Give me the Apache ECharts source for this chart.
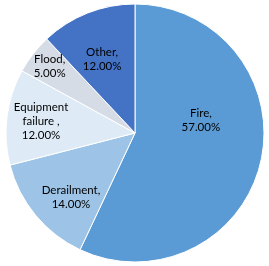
<!DOCTYPE html>
<html><head><meta charset="utf-8">
<script src="https://cdn.jsdelivr.net/npm/echarts@6/dist/echarts.min.js"></script>
<style>html,body{margin:0;padding:0;background:#fff}#c{width:269px;height:266px}</style>
</head><body><div id="c"></div>
<script>
var categories = ['Fire', 'Derailment', 'Equipment failure', 'Flood', 'Other'];
var labelNames = ['Fire,', 'Derailment,', 'Equipment\nfailure ,', 'Flood,', 'Other,'];
var values = [57, 14, 12, 5, 12];
var colors = ['#5B9BD5', '#9DC3E6', '#DEEBF7', '#D6DCE5', '#4472C4'];
var offsets = [[0, -27], [-12, 21], [-27, -3], [-32, -25], [-8, -11]];

var chart = echarts.init(document.getElementById('c'));
chart.setOption({
  animation: false,
  series: [{
    type: 'pie',
    center: [135, 133],
    radius: [0, 129],
    startAngle: 90,
    clockwise: true,
    itemStyle: { borderColor: '#fff', borderWidth: 1 },
    label: {
      position: 'inside',
      fontFamily: 'Lato, "Open Sans", "Liberation Sans", sans-serif',
      fontSize: 11.5,
      lineHeight: 14,
      color: '#000',
      align: 'center',
      formatter: function (p) {
        return labelNames[p.dataIndex] + '\n' + values[p.dataIndex].toFixed(2) + '%';
      }
    },
    labelLine: { show: false },
    data: categories.map(function (c, i) {
      return { name: c, value: values[i], itemStyle: { color: colors[i] }, label: { offset: offsets[i] } };
    })
  }]
});
</script></body></html>
